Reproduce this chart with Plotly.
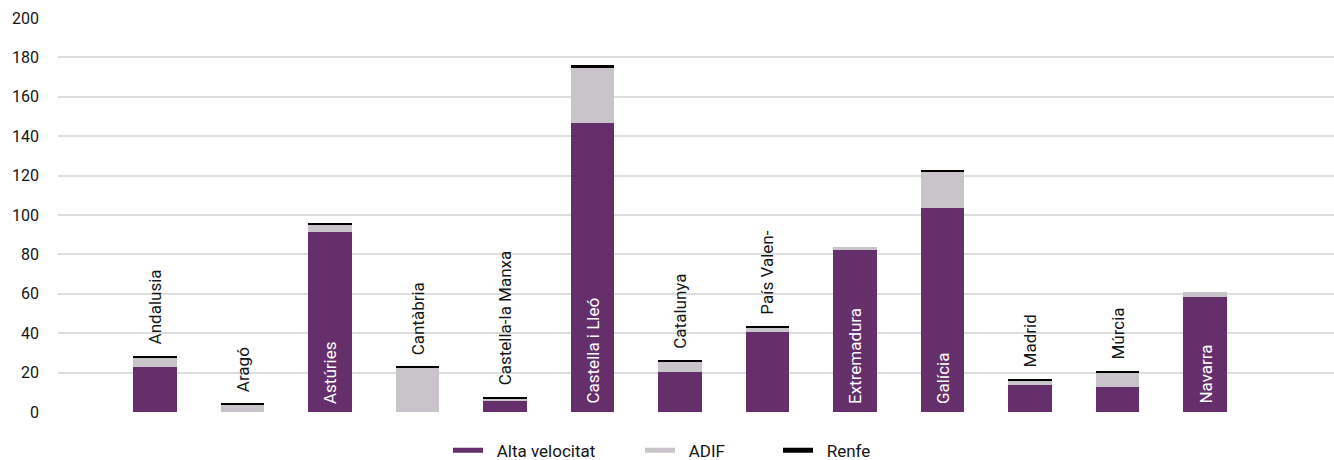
import plotly.graph_objects as go

# Regions (as labelled on the bars)
regions = [
    "Andalusia", "Aragó", "Astúries", "Cantàbria", "Castella-la Manxa",
    "Castella i Lleó", "Catalunya", "País Valen-", "Extremadura", "Galícia",
    "Madrid", "Múrcia", "Navarra",
]

# Stacked series values
alta_velocitat = [23.0, 0.0, 91.5, 0.0, 5.4, 146.8, 20.3, 40.8, 82.4, 103.7, 13.6, 12.7, 58.6]
adif = [4.8, 3.8, 3.6, 22.5, 1.5, 27.7, 5.3, 2.1, 1.5, 18.5, 2.0, 7.3, 2.2]
renfe = [0.7, 0.7, 0.8, 0.7, 0.8, 1.5, 0.7, 0.7, 0.0, 0.7, 1.2, 0.8, 0.0]

y_ticks = [0, 20, 40, 60, 80, 100, 120, 140, 160, 180, 200]

PURPLE = "#652f6b"
LIGHT = "#c9c3ca"
BLACK = "#000000"
FONT = "Roboto"
TEXT = "#151515"
GAP = "\u2002"  # small spacer between legend swatch and its text

series = [
    ("Alta velocitat", alta_velocitat, PURPLE, "legend", 448),
    ("ADIF", adif, LIGHT, "legend2", 640),
    ("Renfe", renfe, BLACK, "legend3", 778),
]

fig = go.Figure()

for name, vals, color, leg, _ in series:
    fig.add_trace(go.Bar(
        x=regions, y=vals, name=name, marker=dict(color=color, line=dict(width=0)),
        width=0.5, showlegend=False, hoverinfo="x+y+name",
    ))
    # line-style legend swatch, one legend box per series
    fig.add_trace(go.Scatter(
        x=[None], y=[None], mode="lines", name=GAP + name,
        line=dict(color=color, width=5), showlegend=True, legend=leg,
    ))

# Region labels: inside tall bars (white, from the base), above short bars (black)
annotations = []
for i, reg in enumerate(regions):
    total = alta_velocitat[i] + adif[i] + renfe[i]
    inside = alta_velocitat[i] >= 50
    annotations.append(dict(
        x=reg, y=0 if inside else total, xref="x", yref="y",
        text=reg, textangle=-90, showarrow=False,
        xanchor="center", yanchor="bottom", yshift=6 if inside else 9,
        font=dict(family=FONT, size=17, color="#ffffff" if inside else TEXT),
    ))

legend_style = dict(
    orientation="h", xref="container", yref="container",
    xanchor="left", y=0.02, yanchor="middle",
    font=dict(family=FONT, size=17, color=TEXT),
    itemwidth=30, bgcolor="rgba(0,0,0,0)",
)

layout_legends = {}
for name, _, _, leg, px in series:
    layout_legends[leg] = dict(legend_style, x=px / 1334)

fig.update_layout(
    width=1334, height=460,
    margin=dict(l=58, r=0, t=18, b=48, pad=0),
    paper_bgcolor="white", plot_bgcolor="white",
    barmode="stack", bargap=0.5,
    font=dict(family=FONT, size=15, color=TEXT),
    annotations=annotations,
    xaxis=dict(
        type="category", range=[-1.109, 13.474], showticklabels=False,
        showgrid=False, zeroline=False, showline=False, ticks="",
    ),
    yaxis=dict(
        range=[0, 200], tickvals=y_ticks, ticktext=[str(v) for v in y_ticks],
        showgrid=True, gridcolor="#dedede", gridwidth=1.5,
        zeroline=False, showline=False, ticks="",
        ticklabelstandoff=18,
        tickfont=dict(family=FONT, size=16, color=TEXT),
    ),
    **layout_legends,
)

fig.write_html("out.html")
